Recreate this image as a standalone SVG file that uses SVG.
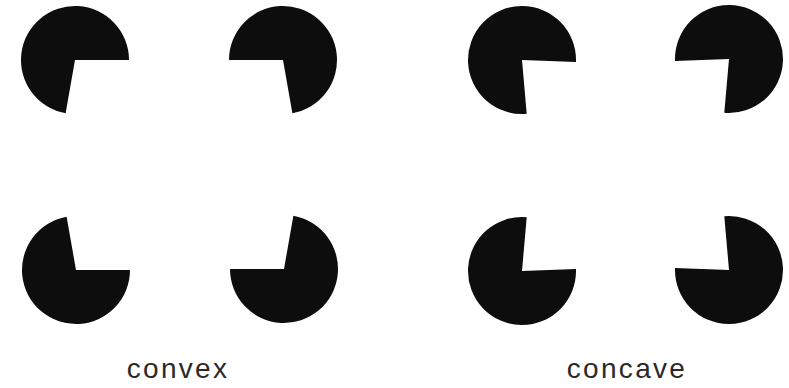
<svg xmlns="http://www.w3.org/2000/svg" width="789" height="388" viewBox="0 0 789 388">
  <style>
    .pac { fill: #0d0d0d; }
    .label { font-family: "Liberation Sans", Arial, sans-serif; font-size: 28px; letter-spacing: 2.3px; fill: #2a2a2a; text-anchor: middle; }
  </style>
  <rect width="789" height="388" fill="#ffffff"/>
  <g id="convex">
    <g id="convex-tl"><path class="pac" d="M75,60 L65.62,113.18 A54,54 0 1 1 129,60 Z"/></g>
    <g id="convex-tr"><path class="pac" d="M283,60 L229,60 A54,54 0 1 1 292.38,113.18 Z"/></g>
    <g id="convex-bl"><path class="pac" d="M76,270 L130,270 A54,54 0 1 1 66.62,216.82 Z"/></g>
    <g id="convex-br"><path class="pac" d="M284,269 L293.38,215.82 A54,54 0 1 1 230,269 Z"/></g>
    <text id="label-convex" class="label" x="178" y="378">convex</text>
  </g>
  <g id="concave">
    <g id="concave-tl"><path class="pac" d="M522,60 L526.71,113.79 A54,54 0 1 1 575.97,61.88 Z"/></g>
    <g id="concave-tr"><path class="pac" d="M729,59 L675.03,60.88 A54,54 0 1 1 724.29,112.79 Z"/></g>
    <g id="concave-bl"><path class="pac" d="M522,271 L575.97,269.12 A54,54 0 1 1 526.71,217.21 Z"/></g>
    <g id="concave-br"><path class="pac" d="M729,270 L724.29,216.21 A54,54 0 1 1 675.03,268.12 Z"/></g>
    <text id="label-concave" class="label" x="627" y="378">concave</text>
  </g>
  <g id="connectors"/>
</svg>
